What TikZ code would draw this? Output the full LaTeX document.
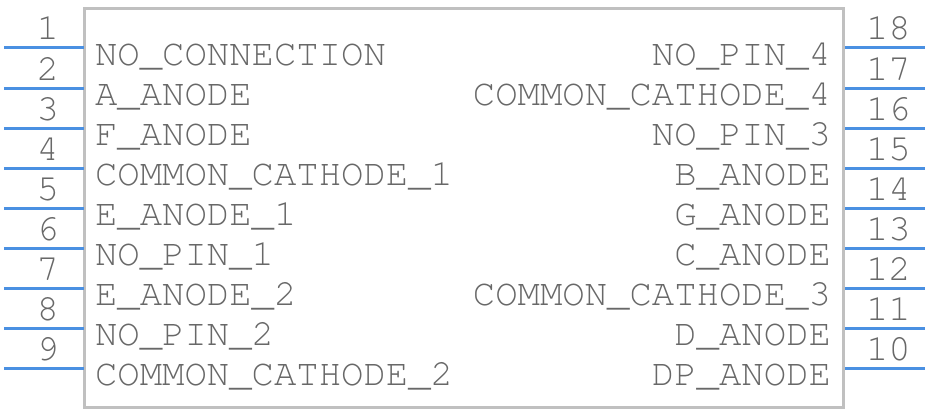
\documentclass[tikz,border=0pt]{standalone}
\usepackage{fontspec}
\setmonofont{TeX Gyre Cursor}
\begin{document}
\begin{tikzpicture}[x=1pt,y=-1pt,
  pinline/.style={draw=pinblue,line width=3pt},
  lbl/.style={inner sep=0pt,outer sep=0pt,text=txtgray,font=\ttfamily\fontsize{37.3}{37.3}\selectfont},
  body/.style={draw=boxgray,line width=3pt,fill=white}]
\definecolor{pinblue}{RGB}{74,144,226}
\definecolor{txtgray}{RGB}{104,104,104}
\definecolor{boxgray}{RGB}{192,192,192}
\useasboundingbox (0,0) rectangle (928,412);
\draw[body] (84.5,8.5) rectangle (843,407);
\foreach \i/\ln/\rn/\rname [count=\k from 0] in {1/NO\_CONNECTION/18/NO\_PIN\_4,
  2/A\_ANODE/17/COMMON\_CATHODE\_4,
  3/F\_ANODE/16/NO\_PIN\_3,
  4/COMMON\_CATHODE\_1/15/B\_ANODE,
  5/E\_ANODE\_1/14/G\_ANODE,
  6/NO\_PIN\_1/13/C\_ANODE,
  7/E\_ANODE\_2/12/COMMON\_CATHODE\_3,
  8/NO\_PIN\_2/11/D\_ANODE,
  9/COMMON\_CATHODE\_2/10/DP\_ANODE}{
  \pgfmathsetmacro{\py}{48+40*\k}
  \coordinate (l\i) at (4,\py);
  \coordinate (lb\i) at (84,\py);
  \coordinate (r\i) at (845,\py);
  \coordinate (re\i) at (925,\py);
  \draw[pinline] (l\i) -- (lb\i);
  \draw[pinline] (r\i) -- (re\i);
  \node[lbl,anchor=base east] (ln\i) at (59,\py-8) {\i};
  \node[lbl,anchor=base west] (rn\i) at (866,\py-8) {\rn};
  \node[lbl,anchor=base west] (lt\i) at (95,\py+17) {\ln};
  \node[lbl,anchor=base east] (rt\i) at (831,\py+17) {\rname};
}
\end{tikzpicture}
\end{document}
